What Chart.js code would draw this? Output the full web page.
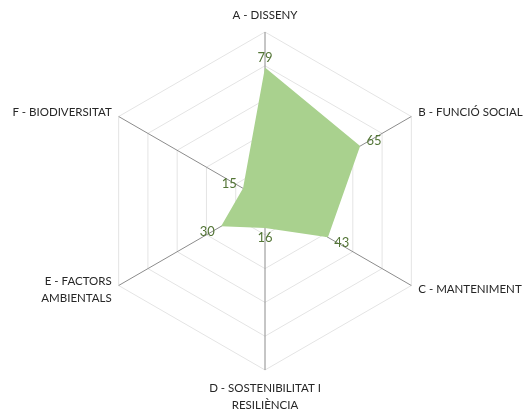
<!DOCTYPE html>
<html lang="ca">
<head>
  <meta charset="UTF-8" />
  <title>Radar</title>
  <script src="https://cdn.jsdelivr.net/npm/chart.js"></script>
  <style>
    html, body { margin: 0; padding: 0; background: #fff; }
    #wrap { width: 526px; height: 412px; position: relative; }
  </style>
</head>
<body>
  <div id="wrap"><canvas id="radarChart"></canvas></div>

  <script>
    const categories = [
      'A - DISSENY',
      'B - FUNCIÓ SOCIAL',
      'C - MANTENIMENT',
      ['D - SOSTENIBILITAT I', 'RESILIÈNCIA'],
      ['E - FACTORS', 'AMBIENTALS'],
      'F - BIODIVERSITAT'
    ];
    const scores = [79, 65, 43, 16, 30, 15];
    const scaleMax = 100;
    const scaleStep = 20;

    // category names, centred on the axis end like the spreadsheet does
    const axisNames = {
      id: 'axisNames',
      afterDraw(chart) {
        const scale = chart.scales.r;
        const c = chart.ctx;
        const lineH = 17;
        c.save();
        c.font = '11.5px Lato';
        c.fillStyle = '#262626';
        categories.forEach((label, i) => {
          const lines = Array.isArray(label) ? label : [label];
          const ang = scale.getIndexAngle(i);
          const sx = Math.sin(ang), sy = -Math.cos(ang);
          let p, startY;
          if (Math.abs(sx) < 0.01) {
            p = scale.getPointPosition(i, scale.drawingArea + 11);
            c.textAlign = 'center';
            if (sy < 0) startY = p.y - lineH * (lines.length - 1) - 6;
            else startY = p.y + 7;
          } else {
            p = scale.getPointPosition(i, scale.drawingArea + 8);
            c.textAlign = sx > 0 ? 'left' : 'right';
            startY = p.y - lineH * (lines.length - 1) / 2;
          }
          c.textBaseline = 'middle';
          lines.forEach((t, k) => c.fillText(t, p.x, startY + k * lineH));
        });
        c.restore();
      }
    };

    // value labels placed just outside each point
    const valueLabels = {
      id: 'valueLabels',
      afterDatasetsDraw(chart) {
        const scale = chart.scales.r;
        const c = chart.ctx;
        c.save();
        c.font = '13px Lato';
        c.fillStyle = '#537536';
        c.textAlign = 'center';
        c.textBaseline = 'middle';
        scores.forEach((v, i) => {
          const ang = scale.getIndexAngle(i);
          const p = scale.getPointPosition(i, scale.getDistanceFromCenterForValue(v));
          c.fillText(String(v), p.x + Math.sin(ang) * 16, p.y - Math.cos(ang) * 10);
        });
        c.restore();
      }
    };

    const ctx = document.getElementById('radarChart').getContext('2d');
    new Chart(ctx, {
      type: 'radar',
      data: {
        labels: categories,
        datasets: [{
          data: scores,
          backgroundColor: '#a9d18e',
          borderWidth: 0,
          pointRadius: 0,
          fill: true
        }]
      },
      options: {
        responsive: true,
        maintainAspectRatio: false,
        animation: false,
        layout: { padding: { top: 32, bottom: 42, left: 4, right: 0 } },
        plugins: {
          legend: { display: false },
          tooltip: { enabled: false }
        },
        scales: {
          r: {
            min: 0,
            max: scaleMax,
            ticks: { display: false, stepSize: scaleStep },
            grid: { color: '#e4e4e4', lineWidth: 1 },
            angleLines: { color: '#8c8c8c', lineWidth: 1 },
            pointLabels: { display: false }
          }
        }
      },
      plugins: [valueLabels, axisNames]
    });
  </script>
</body>
</html>
